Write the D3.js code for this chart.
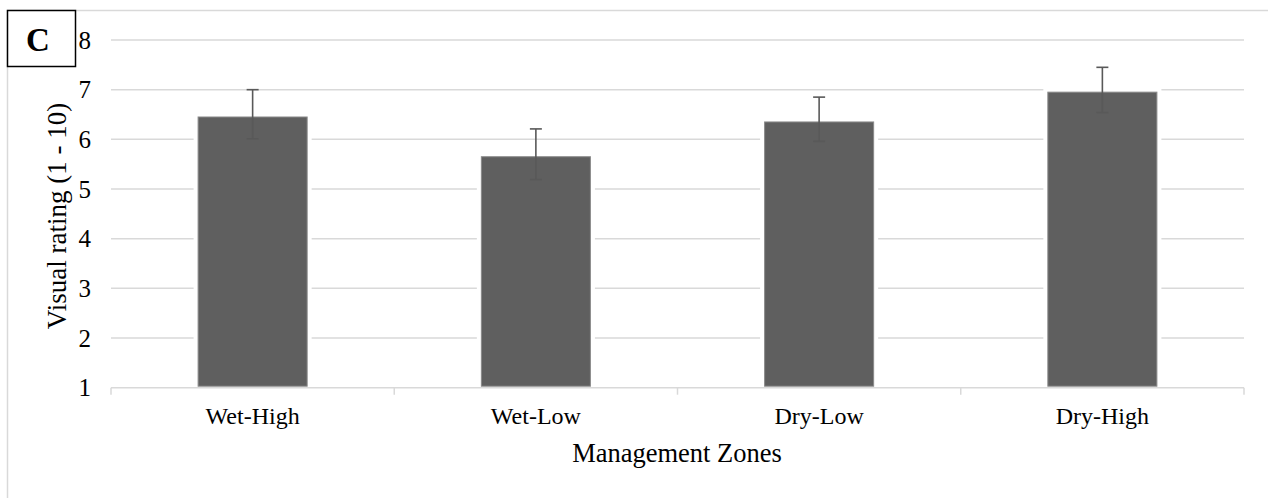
<!DOCTYPE html>
<html>
<head>
<meta charset="utf-8">
<script src="https://cdn.jsdelivr.net/npm/d3@7"></script>
<style>
  html, body { margin: 0; padding: 0; background: #fff; }
  svg { display: block; }
  text { font-family: "Liberation Serif", "Times New Roman", serif; fill: #000; }
</style>
</head>
<body>
<svg id="chart" width="1268" height="498"></svg>
<script>
const categories = ["Wet-High", "Wet-Low", "Dry-Low", "Dry-High"];
const means = [6.45, 5.65, 6.35, 6.95];
const upper = [7.00, 6.21, 6.85, 7.45];
const lower = [6.01, 5.19, 5.96, 6.54];
const yTicks = [1, 2, 3, 4, 5, 6, 7, 8];
const panelLabel = "C";
const xTitle = "Management Zones";
const yTitle = "Visual rating (1 - 10)";

const svg = d3.select("#chart");

// outer chart frame (cut off at right/bottom)
svg.append("rect").attr("x", 7.5).attr("y", 10.5).attr("width", 1400).attr("height", 700)
  .attr("fill", "none").attr("stroke", "#d9d9d9").attr("stroke-width", 1.5);

const x = d3.scaleBand().domain(categories).range([111, 1244]).paddingInner(0.615).paddingOuter(0.3075);
const xb = d3.scaleBand().domain(categories).range([111, 1244]).padding(0);
const y = d3.scaleLinear().domain([1, 8]).range([387.7, 40]);

// gridlines
svg.append("g").selectAll("line").data(yTicks.filter(t => t > 1)).join("line")
  .attr("x1", 111).attr("x2", 1244)
  .attr("y1", d => y(d)).attr("y2", d => y(d))
  .attr("stroke", "#d9d9d9").attr("stroke-width", 1.5);

// y tick labels
svg.append("g").selectAll("text").data(yTicks).join("text")
  .attr("x", 91).attr("y", d => y(d)).attr("dy", "0.34em")
  .attr("text-anchor", "end").attr("font-size", 25).text(d => d);

// bar white halo
const bars = svg.append("g");
bars.selectAll("rect.halo").data(categories).join("rect").attr("class", "halo")
  .attr("x", d => x(d) - 4.5).attr("width", x.bandwidth() + 9)
  .attr("y", (d, i) => y(means[i]) - 4.5)
  .attr("height", (d, i) => y(1) - y(means[i]) + 4.5)
  .attr("fill", "#fff");
bars.selectAll("rect.bar").data(categories).join("rect").attr("class", "bar")
  .attr("x", d => x(d)).attr("width", x.bandwidth())
  .attr("y", (d, i) => y(means[i]))
  .attr("height", (d, i) => y(1) - y(means[i]) - 1.5)
  .attr("fill", "#5f5f5f").attr("stroke", "#8a8a8a").attr("stroke-width", 1);

// x axis line and ticks
const xa = svg.append("g");
xa.append("line").attr("x1", 111).attr("x2", 1244).attr("y1", y(1)).attr("y2", y(1))
  .attr("stroke", "#d9d9d9").attr("stroke-width", 1.5);
const bounds = categories.map(c => xb(c)).concat([xb.range()[1]]);
xa.selectAll("line.tk").data(bounds).join("line").attr("class", "tk")
  .attr("x1", d => d).attr("x2", d => d).attr("y1", y(1)).attr("y2", y(1) + 7)
  .attr("stroke", "#d9d9d9").attr("stroke-width", 1.5);
xa.selectAll("text").data(categories).join("text")
  .attr("x", d => x(d) + x.bandwidth() / 2).attr("y", 424)
  .attr("text-anchor", "middle").attr("font-size", 24).text(d => d);

// error bars
const eb = svg.append("g").attr("stroke", "#595959").attr("stroke-width", 1.6);
categories.forEach((c, i) => {
  const cx = x(c) + x.bandwidth() / 2;
  eb.append("line").attr("x1", cx).attr("x2", cx).attr("y1", y(upper[i])).attr("y2", y(lower[i]));
  eb.append("line").attr("x1", cx - 6).attr("x2", cx + 6).attr("y1", y(upper[i])).attr("y2", y(upper[i]));
  eb.append("line").attr("x1", cx - 6).attr("x2", cx + 6).attr("y1", y(lower[i])).attr("y2", y(lower[i]));
});

// axis titles
svg.append("text").attr("x", 677).attr("y", 461.5).attr("text-anchor", "middle")
  .attr("font-size", 26.5).text(xTitle);
svg.append("text").attr("transform", "translate(66,216) rotate(-90)")
  .attr("text-anchor", "middle").attr("font-size", 27).text(yTitle);

// panel label box
svg.append("rect").attr("x", 7.5).attr("y", 10.5).attr("width", 68).attr("height", 56)
  .attr("fill", "#fff").attr("stroke", "#000").attr("stroke-width", 1.5);
svg.append("text").attr("x", 38).attr("y", 50.5).attr("text-anchor", "middle")
  .attr("font-size", 33).attr("font-weight", "bold").text(panelLabel);
</script>
</body>
</html>
